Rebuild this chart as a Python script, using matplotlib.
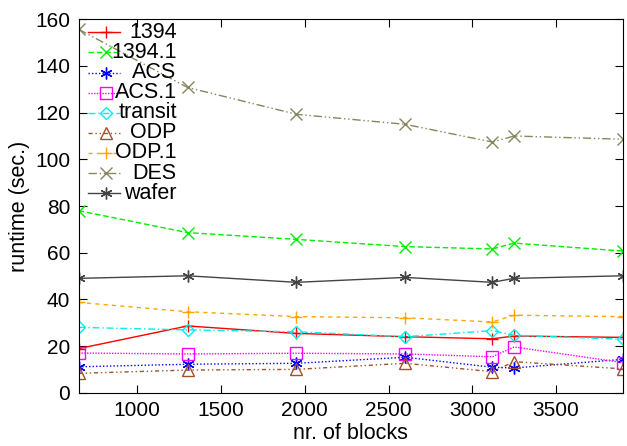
import matplotlib
matplotlib.use('Agg')
import matplotlib.pyplot as plt
from matplotlib.lines import Line2D

plt.rcParams['font.family'] = ['Liberation Sans', 'DejaVu Sans']

blocks = [650, 1300, 1950, 2600, 3120, 3250, 3900]

names = ['1394', '1394.1', 'ACS', 'ACS.1', 'transit', 'ODP', 'ODP.1', 'DES', 'wafer']
s1394   = [18.9, 28.6, 25.4, 24.0, 23.1, 24.3, 23.7]
s1394_1 = [78.0, 68.6, 65.7, 62.6, 61.6, 64.1, 60.7]
acs     = [11.1, 12.2, 12.6, 15.2, 10.9, 10.6, 14.3]
acs_1   = [17.0, 16.6, 16.9, 16.6, 15.4, 19.6, 12.9]
transit = [28.0, 26.9, 26.1, 24.0, 26.6, 24.6, 22.9]
odp     = [8.3, 9.7, 10.0, 12.6, 9.0, 13.3, 10.2]
odp_1   = [38.7, 34.7, 32.6, 32.1, 30.3, 33.2, 32.6]
des     = [155.7, 130.8, 119.3, 115.0, 107.4, 110.0, 108.6]
wafer   = [49.0, 50.1, 47.3, 49.4, 47.3, 49.0, 50.1]
series = [s1394, s1394_1, acs, acs_1, transit, odp, odp_1, des, wafer]

star = (6, 2, 0)
styles = [
    dict(color='#ff0000', ls='-', marker='+'),
    dict(color='#00ee00', ls=(0, (4, 2)), marker='x'),
    dict(color='#0000ff', ls=(0, (1, 1.5)), marker=star),
    dict(color='#ff00ff', ls=(0, (1, 1)), marker='s', mfc='none'),
    dict(color='#00eeee', ls=(0, (5, 2, 1, 2)), marker='D', mfc='none', ms=6),
    dict(color='#a0522d', ls=(0, (3, 2, 1, 2, 1, 2)), marker='^', mfc='none'),
    dict(color='#ffa500', ls=(0, (3, 3)), marker='+'),
    dict(color='#86865f', ls=(0, (6, 2, 1, 2, 1, 2)), marker='x'),
    dict(color='#444444', ls='-', marker=star),
]

fig = plt.figure(figsize=(6.27, 4.46), dpi=100)
ax = fig.add_axes([0.1255, 0.1195, 0.9936 - 0.1255, 0.9567 - 0.1195])

for name, ys, st in zip(names, series, styles):
    kw = dict(lw=1, ms=8.5, mew=1)
    kw.update(st)
    ax.plot(blocks, ys, **kw)

ax.set_xlim(650, 3900)
ax.set_ylim(0, 160)
ax.set_xticks([1000, 1500, 2000, 2500, 3000, 3500])
ax.set_yticks(range(0, 161, 20))
ax.tick_params(direction='in', length=6, labelsize=15, top=True, right=True, pad=6)
ax.set_xlabel('nr. of blocks', fontsize=15.5, labelpad=2)
ax.set_ylabel('runtime (sec.)', fontsize=15.5, labelpad=4)

# gnuplot-style key: sample first, right-justified labels
x0, x1, xm, xt = 0.017, 0.076, 0.051, 0.18
ytop = 1 - (32.3 - 19.3) / 373.4
dy = 20.1 / 373.4
for i, (name, st) in enumerate(zip(names, styles)):
    y = ytop - i * dy
    kw = dict(lw=1, ms=8.5, mew=1)
    kw.update(st)
    mk = kw.pop('marker')
    ax.add_line(Line2D([x0, x1], [y, y], transform=ax.transAxes,
                       color=kw['color'], ls=kw['ls'], lw=1))
    ax.add_line(Line2D([xm], [y], transform=ax.transAxes, marker=mk,
                       color=kw['color'], ms=kw['ms'], mew=1,
                       mfc=kw.get('mfc', kw['color']), ls='none'))
    ax.text(xt, y, name, transform=ax.transAxes, ha='right', va='center',
            fontsize=15.5)

fig.savefig('out.png', dpi=100)
